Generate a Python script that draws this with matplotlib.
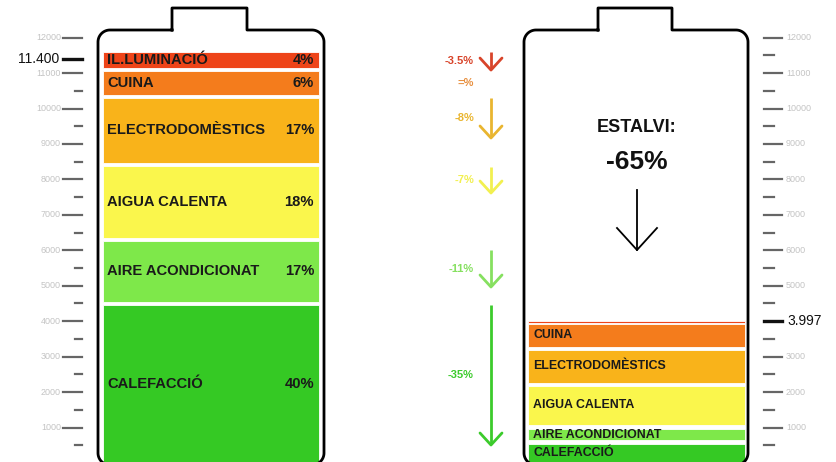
import numpy as np
import matplotlib
matplotlib.use('Agg')
from matplotlib import pyplot as plt

plt.rcParams['font.family'] = ['Liberation Sans', 'DejaVu Sans']

# dades (kWh), de baix a dalt
categories = ['CALEFACCIÓ', 'AIRE ACONDICIONAT', 'AIGUA CALENTA',
              'ELECTRODOMÈSTICS', 'CUINA', 'IL.LUMINACIÓ']
shares = ['40%', '17%', '18%', '17%', '6%', '4%']
before = [4457, 1720, 2031, 1833, 677, 452]
after = [536, 302, 1109, 923, 640, 47]
savings = ['-35%', '-11%', '-7%', '-8%', '=%', '-3.5%']
arrow_top = [4457, 6008, 8350, 10296, None, 11594]
arrow_bot = [508, 4965, 7616, 9168, None, 11085]
total_before = 11400
total_after = 3997
saving_total = '-65%'

colors = ['#35C924', '#7EE84A', '#FAF64C', '#F9B31A', '#F47C1C', '#EE4419']
save_colors = ['#3CCB2C', '#86E060', '#F2F050', '#E9B530', '#E89040', '#D8442A']
gaps_before = [85, 85, 85, 85, 85]
gaps_after = [113, 121, 84, 93, 29]

# escala: 1000 kWh = 35.45 px, 0 a y=463 px
PX = 35.45 / 1000.0


def ypx(v):
    return 463 - v * PX


fig = plt.figure(figsize=(8.36, 4.62), dpi=100)
ax = fig.add_axes([0, 0, 1, 1])
ax.set_xlim(0, 836)
ax.set_ylim(462, 0)
ax.axis('off')


def stack(vals, gaps):
    bottoms = [0]
    for v, g in zip(vals[:-1], gaps):
        bottoms.append(bottoms[-1] + v + g)
    return bottoms


def battery(x0, x1, cx0, cx1, ytop=30, ybot=465, ycap=8, r=12):
    t = np.linspace(0, np.pi / 2, 20)
    xs = [cx0, x0 + r]
    ys = [ytop, ytop]
    xs += list(x0 + r - r * np.sin(t)); ys += list(ytop + r - r * np.cos(t))
    xs += list(x0 + r - r * np.cos(t)); ys += list(ybot - r + r * np.sin(t))
    xs += list(x1 - r + r * np.sin(t)); ys += list(ybot - r + r * np.cos(t))
    xs += list(x1 - r + r * np.cos(t)); ys += list(ytop + r - r * np.sin(t))
    xs += [cx1, cx1, cx0, cx0]
    ys += [ytop, ycap, ycap, ytop]
    ax.plot(xs, ys, color='black', lw=2, solid_joinstyle='round')


battery(98, 324, 172, 247)
battery(524, 748, 598, 672)

# bateria d'abans
b0 = stack(before, gaps_before)
for i, (v, b) in enumerate(zip(before, b0)):
    ax.bar(211, v * PX, bottom=ypx(b + v), width=216, color=colors[i],
           edgecolor='white', linewidth=0.6)
    yc = ypx(b + v / 2)
    ax.text(107, yc, categories[i], ha='left', va='center',
            fontsize=10.6, fontweight='bold', color='#1a1a1a')
    ax.text(314, yc, shares[i], ha='right', va='center',
            fontsize=10.6, fontweight='bold', color='#1a1a1a')

# bateria de després
b1 = stack(after, gaps_after)
for i, (v, b) in enumerate(zip(after, b1)):
    ax.bar(636.5, v * PX, bottom=ypx(b + v), width=217, color=colors[i],
           edgecolor='white', linewidth=0.6)
    if categories[i] != 'IL.LUMINACIÓ':
        ax.text(533, ypx(b + v / 2), categories[i], ha='left', va='center',
                fontsize=8.9, fontweight='bold', color='#1a1a1a')

# fletxes d'estalvi
for i in range(len(savings)):
    if arrow_top[i] is None:
        ym = ypx(b0[i] + before[i] / 2)
    else:
        y0, y1 = ypx(arrow_top[i]), ypx(arrow_bot[i])
        ym = (y0 + y1) / 2
        ax.plot([491, 491], [y0, y1 - 1], color=save_colors[i], lw=2,
                solid_capstyle='butt')
        ax.plot([480, 491, 502], [y1 - 12, y1, y1 - 12],
                color=save_colors[i], lw=2, solid_capstyle='round')
    ax.text(474, ym, savings[i], ha='right', va='center', fontsize=8,
            fontweight='bold', color=save_colors[i])

ax.text(637, 127, 'ESTALVI:', ha='center', va='center', fontsize=13,
        fontweight='bold', color='#111111')
ax.text(637, 162, saving_total, ha='center', va='center', fontsize=19,
        fontweight='bold', color='#111111')
ax.plot([637, 637], [190, 250], color='black', lw=1.3)
ax.plot([617, 637, 657], [228, 250, 228], color='black', lw=1.3)

# escales
major = np.arange(1000, 12001, 1000)
minor = np.arange(500, 12000, 1000)
for v in major:
    ax.plot([63, 82], [ypx(v), ypx(v)], color='#666666', lw=1.6)
    ax.text(61, ypx(v), str(v), ha='right', va='center', fontsize=6.5,
            color='#c4c4c4')
    if v != 4000:
        ax.plot([764, 782], [ypx(v), ypx(v)], color='#666666', lw=1.6)
        ax.text(786, ypx(v), str(v), ha='left', va='center', fontsize=6.5,
                color='#c4c4c4')
for v in minor:
    if v != 11500:
        ax.plot([75, 82], [ypx(v), ypx(v)], color='#666666', lw=1.6)
    ax.plot([764, 774], [ypx(v), ypx(v)], color='#666666', lw=1.6)

ax.plot([63, 82], [ypx(total_before), ypx(total_before)], color='#111111', lw=2.4)
ax.text(59, ypx(total_before), f'{total_before / 1000:.3f}', ha='right',
        va='center', fontsize=10, color='#111111')
ax.plot([764, 782], [ypx(total_after), ypx(total_after)], color='#111111', lw=2.4)
ax.text(787, ypx(total_after), f'{total_after / 1000:.3f}', ha='left',
        va='center', fontsize=10, color='#111111')

plt.savefig('out.png', dpi=100)
